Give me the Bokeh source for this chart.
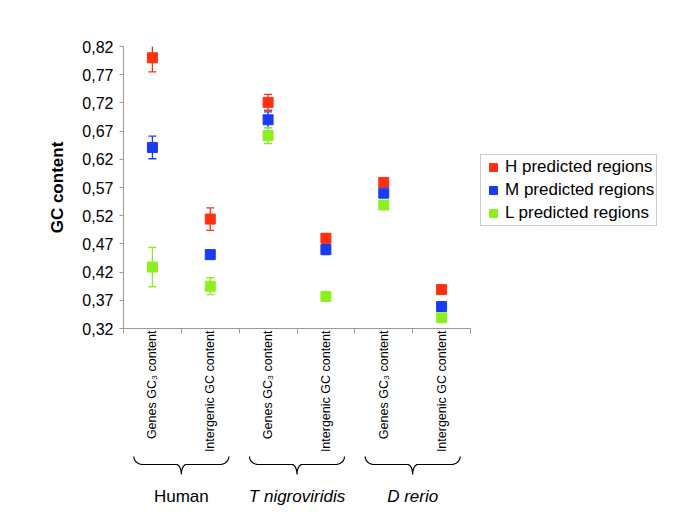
import numpy as np
from bokeh.plotting import figure
from bokeh.layouts import column
from bokeh.models import (ColumnDataSource, FixedTicker, CustomJSTickFormatter, Legend,
                          LegendItem, Range1d)
from bokeh.core.properties import value
from bokeh.embed import file_html
from bokeh.resources import INLINE

# ---------------- data ----------------
groups = ["Human", "T nigroviridis", "D rerio"]
group_styles = ["normal", "italic", "italic"]
categories = ["Genes GC\u2083 content", "Intergenic GC content",
              "Genes GC\u2083 content", "Intergenic GC content",
              "Genes GC\u2083 content", "Intergenic GC content"]
series_names = ["H predicted regions", "M predicted regions", "L predicted regions"]
series_colors = ["#ff3010", "#1a3cf0", "#8cf01e"]

h_vals = [0.800, 0.514, 0.721, 0.480, 0.579, 0.389]
h_errs = [0.025, 0.020, 0.014, 0.008, 0.004, 0.004]
m_vals = [0.641, 0.451, 0.690, 0.460, 0.560, 0.359]
m_errs = [0.020, 0.008, 0.014, 0.009, 0.004, 0.004]
l_vals = [0.429, 0.395, 0.662, 0.377, 0.539, 0.339]
l_errs = [0.035, 0.015, 0.014, 0.008, 0.004, 0.004]

y_ticks = [0.32, 0.37, 0.42, 0.47, 0.52, 0.57, 0.62, 0.67, 0.72, 0.77, 0.82]
y_label = "GC content"

# ---------------- layout ----------------
FL, FT, FW, FH = 123, 46, 347, 282
P = 126          # estimated height of the x-axis panel (vertical category labels)
HB = 52          # height of the lower strip (braces, group names)
Y0, Y1 = y_ticks[0], y_ticks[-1]
NCAT = len(categories)
PX_PER_X = FW / NCAT
FONT = "Liberation Sans"
AXIS_COLOR = "#9a9a9a"

p = figure(frame_width=FW, frame_height=FH, x_range=Range1d(0, NCAT), y_range=Range1d(Y0, Y1),
           output_backend="svg", toolbar_location=None,
           min_border_left=FL, min_border_top=FT, min_border_right=200, min_border_bottom=0)
p.outline_line_color = None
p.xgrid.visible = False
p.ygrid.visible = False

# y axis
p.yaxis.ticker = FixedTicker(ticks=y_ticks)
p.yaxis.formatter = CustomJSTickFormatter(code="return tick.toFixed(2).replace('.', ',');")
p.yaxis.major_label_text_font = FONT
p.yaxis.major_label_text_font_size = "16px"
p.yaxis.major_label_text_color = "black"
p.yaxis.major_label_standoff = 6
p.yaxis.major_tick_in = 0
p.yaxis.major_tick_out = 4
p.yaxis.minor_tick_line_color = None
p.yaxis.axis_line_color = AXIS_COLOR
p.yaxis.major_tick_line_color = AXIS_COLOR
p.yaxis.axis_label = y_label
p.yaxis.axis_label_text_font = FONT
p.yaxis.axis_label_text_font_size = "17px"
p.yaxis.axis_label_text_font_style = "bold"
p.yaxis.axis_label_text_color = "black"
p.yaxis.axis_label_standoff = 12

# x axis: category names at the centres, tick marks (minor ticks) at the boundaries
xs = np.arange(NCAT) + 0.5
p.xaxis.ticker = FixedTicker(ticks=list(xs), minor_ticks=list(range(NCAT + 1)))
p.xaxis.formatter = CustomJSTickFormatter(args=dict(cats=categories),
                                          code="return cats[Math.floor(tick)];")
p.xaxis.major_label_orientation = np.pi / 2
p.xaxis.major_label_text_font = FONT
p.xaxis.major_label_text_font_size = "12.5px"
p.xaxis.major_label_text_color = "black"
p.xaxis.major_label_standoff = -3
p.xaxis.major_tick_in = 0
p.xaxis.major_tick_out = 0
p.xaxis.major_tick_line_color = None
p.xaxis.minor_tick_in = 0
p.xaxis.minor_tick_out = 5
p.xaxis.minor_tick_line_color = AXIS_COLOR
p.xaxis.axis_line_color = AXIS_COLOR

cap = 4.0 / PX_PER_X

legend_items = []
for name, color, vals, errs in zip(series_names, series_colors,
                                   [h_vals, m_vals, l_vals], [h_errs, m_errs, l_errs]):
    v = np.array(vals)
    e = np.array(errs)
    src = ColumnDataSource(dict(x=xs, y=v, lo=v - e, hi=v + e,
                                xl=xs - cap, xr=xs + cap))
    p.segment(x0="x", y0="lo", x1="x", y1="hi", source=src, line_color=color, line_width=1.3)
    p.segment(x0="xl", y0="hi", x1="xr", y1="hi", source=src, line_color=color, line_width=1.3)
    p.segment(x0="xl", y0="lo", x1="xr", y1="lo", source=src, line_color=color, line_width=1.3)
    r = p.scatter(x="x", y="y", source=src, marker="square", size=10,
                  fill_color=color, line_color=color)
    legend_items.append(LegendItem(label=name, renderers=[r]))

legend = Legend(items=legend_items, location=(10, 102))
legend.label_text_font = FONT
legend.label_text_font_size = "17px"
legend.label_text_color = "black"
legend.glyph_width = 20
legend.glyph_height = 20
legend.label_height = 20
legend.padding = 2
legend.spacing = 3
legend.label_standoff = 2
legend.margin = 0
legend.border_line_color = AXIS_COLOR
legend.border_line_width = 1
legend.background_fill_alpha = 1
p.add_layout(legend, "right")

# ---------------- lower strip: braces and group names ----------------
q = figure(frame_width=FW, frame_height=HB, x_range=p.x_range, y_range=Range1d(-HB, 0),
           output_backend="svg", toolbar_location=None,
           x_axis_location=None, y_axis_location=None,
           min_border_left=FL, min_border_right=200, min_border_top=0, min_border_bottom=0)
q.outline_line_color = None
q.xgrid.visible = False
q.ygrid.visible = False


def below_axis(px):
    """y in the strip for a point px pixels below the x axis line"""
    return -(np.asarray(px, dtype=float) - P)


hw, rc, rm = 47.5, 9.0, 5.0
tip = max(124.0, P + 1.0)
line, cusp = 135.0, 145.0
t = np.linspace(0, np.pi / 2, 12)
left_corner_x = -hw + rc * (1 - np.cos(t))
left_corner_y = tip + (line - tip) * np.sin(t)
mid_x = -rm + rm * np.sin(t)
mid_y = line + (cusp - line) * (1 - np.cos(t))
half_x = np.concatenate([left_corner_x, mid_x])
half_y = np.concatenate([left_corner_y, mid_y])
path_x = np.concatenate([half_x, -half_x[::-1]])
path_y = np.concatenate([half_y, half_y[::-1]])

centers = [2 * i + 1 for i in range(len(groups))]
q.multi_line(xs=[list(c + path_x / PX_PER_X) for c in centers],
             ys=[list(below_axis(path_y)) for _ in centers],
             line_color="black", line_width=1.2)

grp_src = ColumnDataSource(dict(x=centers, y=[float(below_axis(167))] * len(groups),
                                text=groups, style=group_styles))
q.text(x="x", y="y", text="text", source=grp_src, text_align="center",
       text_baseline="alphabetic", text_font=value(FONT), text_font_size="17px",
       text_font_style="style", text_color="black")

layout = column(p, q, spacing=0)
open("out.html", "w").write(file_html(layout, INLINE))
